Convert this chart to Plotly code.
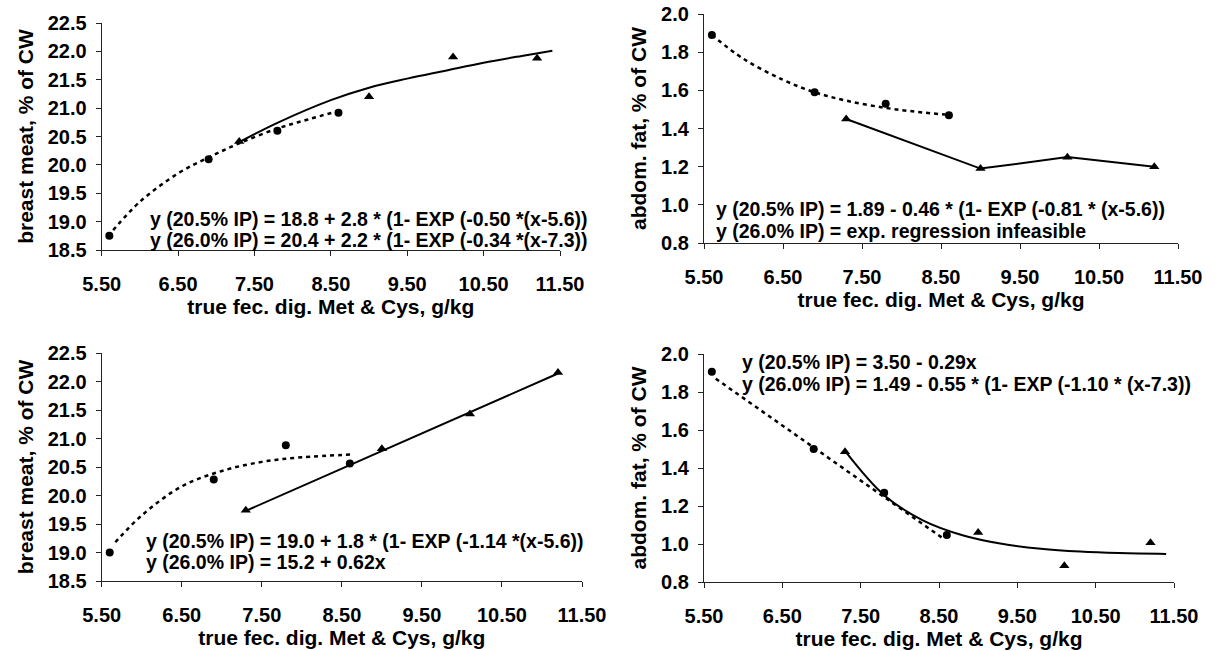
import plotly.graph_objects as go

W, H = 1215, 651

# ---------- data ----------
# Panel A: breast meat (top-left)
a_x_205 = [5.6, 6.9, 7.8, 8.6]
a_y_205 = [18.75, 20.10, 20.60, 20.92]
a_x_260 = [7.3, 9.0, 10.1, 11.2]
a_y_260 = [20.41, 21.20, 21.90, 21.88]
a_fit205_x = [5.65, 6.0, 6.5, 6.9, 7.3, 7.8, 8.2, 8.6]
a_fit205_y = [18.85, 19.35, 19.85, 20.13, 20.38, 20.64, 20.80, 20.95]
a_fit260_x = [7.3, 7.8, 8.5, 9.0, 9.5, 10.0, 10.5, 11.0, 11.4]
a_fit260_y = [20.40, 20.74, 21.14, 21.36, 21.52, 21.66, 21.80, 21.92, 22.01]

# Panel B: abdominal fat (top-right)
b_x_205 = [5.6, 6.9, 7.8, 8.6]
b_y_205 = [1.89, 1.59, 1.53, 1.47]
b_x_260 = [7.3, 9.0, 10.1, 11.2]
b_y_260 = [1.45, 1.19, 1.25, 1.20]
b_fit205_x = [5.6, 6.0, 6.5, 6.9, 7.3, 7.8, 8.2, 8.55]
b_fit205_y = [1.89, 1.765, 1.655, 1.59, 1.546, 1.508, 1.487, 1.473]

# Panel C: breast meat (bottom-left)
c_x_205 = [5.6, 6.9, 7.8, 8.6]
c_y_205 = [19.00, 20.28, 20.88, 20.56]
c_x_260 = [7.3, 9.0, 10.1, 11.2]
c_y_260 = [19.74, 20.82, 21.43, 22.16]
c_fit205_x = [5.67, 6.0, 6.5, 7.0, 7.5, 8.0, 8.65]
c_fit205_y = [19.18, 19.65, 20.16, 20.43, 20.59, 20.67, 20.72]
c_fit260_x = [7.3, 11.2]
c_fit260_y = [19.73, 22.14]

# Panel D: abdominal fat (bottom-right)
d_x_205 = [5.6, 6.9, 7.8, 8.6]
d_y_205 = [1.907, 1.50, 1.27, 1.047]
d_x_260 = [7.3, 9.0, 10.1, 11.2]
d_y_260 = [1.486, 1.06, 0.886, 1.007]
d_fit205_x = [5.65, 8.55]
d_fit205_y = [1.87, 1.03]
d_fit260_x = [7.3, 7.8, 8.3, 8.8, 9.3, 9.8, 10.3, 10.8, 11.4]
d_fit260_y = [1.49, 1.257, 1.123, 1.046, 1.001, 0.975, 0.960, 0.952, 0.948]

x_ticks = [5.5, 6.5, 7.5, 8.5, 9.5, 10.5, 11.5]
x_ticktext = ["5.50", "6.50", "7.50", "8.50", "9.50", "10.50", "11.50"]

x_title = "true fec. dig. Met & Cys, g/kg"
y_title_meat = "breast meat, % of CW"
y_title_fat = "abdom. fat, % of CW"

eq = {
    "A": ["y (20.5% IP) = 18.8 + 2.8 * (1- EXP (-0.50 *(x-5.6))",
          "y (26.0% IP) = 20.4 + 2.2 * (1- EXP (-0.34 *(x-7.3))"],
    "B": ["y (20.5% IP) = 1.89 - 0.46 * (1- EXP (-0.81 * (x-5.6))",
          "y (26.0% IP) = exp. regression infeasible"],
    "C": ["y (20.5% IP) = 19.0 + 1.8 * (1- EXP (-1.14 *(x-5.6))",
          "y (26.0% IP) = 15.2 + 0.62x"],
    "D": ["y (20.5% IP) = 3.50 - 0.29x",
          "y (26.0% IP) = 1.49 - 0.55 * (1- EXP (-1.10 * (x-7.3))"],
}

# ---------- layout helpers ----------
FONT = "Arial, Liberation Sans, sans-serif"
FS_TICK = 20
FS_TITLE = 21
FS_EQ = 19.5

def px_x(p):
    return p / W

def px_y(p):
    return 1 - p / H

# pixel boxes (left, right, top, bottom)
boxes = {
    "A": (101.7, 560, 23, 250),
    "B": (704, 1178, 14, 243),
    "C": (101.7, 582, 353, 581),
    "D": (704, 1174, 354, 582),
}
yranges = {"A": [18.5, 22.5], "B": [0.8, 2.0], "C": [18.5, 22.5], "D": [0.8, 2.0]}
ydt = {"A": 0.5, "B": 0.2, "C": 0.5, "D": 0.2}
ytitles = {"A": y_title_meat, "B": y_title_fat, "C": y_title_meat, "D": y_title_fat}
axid = {"A": "", "B": "2", "C": "3", "D": "4"}

fig = go.Figure()

dash_style = "4px,4px"

def add_panel(key, x205, y205, x260, y260, fx205, fy205, fx260=None, fy260=None,
              solid_shape="spline"):
    a = axid[key]
    xa, ya = "x" + a, "y" + a
    fig.add_trace(go.Scatter(x=fx205, y=fy205, mode="lines", xaxis=xa, yaxis=ya,
                             line=dict(color="black", width=2.5, dash=dash_style,
                                       shape="spline", smoothing=1.0),
                             showlegend=False, hoverinfo="skip"))
    if fx260 is not None:
        fig.add_trace(go.Scatter(x=fx260, y=fy260, mode="lines", xaxis=xa, yaxis=ya,
                                 line=dict(color="black", width=2, shape=solid_shape,
                                           smoothing=1.0),
                                 showlegend=False, hoverinfo="skip"))
    fig.add_trace(go.Scatter(x=x205, y=y205, mode="markers", xaxis=xa, yaxis=ya,
                             marker=dict(symbol="circle", size=8, color="black"),
                             showlegend=False))
    fig.add_trace(go.Scatter(x=x260, y=y260, mode="markers", xaxis=xa, yaxis=ya,
                             marker=dict(symbol="triangle-up", size=9, color="black"),
                             showlegend=False))

add_panel("A", a_x_205, a_y_205, a_x_260, a_y_260, a_fit205_x, a_fit205_y,
          a_fit260_x, a_fit260_y)
add_panel("B", b_x_205, b_y_205, b_x_260, b_y_260, b_fit205_x, b_fit205_y,
          b_x_260, b_y_260, solid_shape="linear")
add_panel("C", c_x_205, c_y_205, c_x_260, c_y_260, c_fit205_x, c_fit205_y,
          c_fit260_x, c_fit260_y, solid_shape="linear")
add_panel("D", d_x_205, d_y_205, d_x_260, d_y_260, d_fit205_x, d_fit205_y,
          d_fit260_x, d_fit260_y)

layout = dict(
    width=W, height=H,
    margin=dict(l=0, r=0, t=0, b=0),
    paper_bgcolor="white", plot_bgcolor="white",
    font=dict(family=FONT, size=FS_TICK, color="black"),
    showlegend=False,
)

for key, (l, r, t, b) in boxes.items():
    a = axid[key]
    layout["xaxis" + a] = dict(
        domain=[px_x(l), px_x(r)], range=[5.5, 11.5], anchor="y" + a,
        tickvals=x_ticks, ticktext=x_ticktext,
        showgrid=False, zeroline=False, showline=True, linecolor="#222", linewidth=1.2,
        ticks="outside", ticklen=5, tickwidth=1.2, tickcolor="#222",
        ticklabelstandoff=11,
        tickfont=dict(family=FONT, size=FS_TICK, color="black", weight="bold"),
        title=dict(text=x_title, standoff=1,
                   font=dict(family=FONT, size=FS_TITLE, color="black", weight="bold")),
        automargin=False, fixedrange=True,
    )
    layout["yaxis" + a] = dict(
        domain=[px_y(b), px_y(t)], range=yranges[key], anchor="x" + a,
        dtick=ydt[key], tick0=yranges[key][0], tickformat=".1f",
        showgrid=False, zeroline=False, showline=True, linecolor="#222", linewidth=1.2,
        ticks="outside", ticklen=5, tickwidth=1.2, tickcolor="#222",
        ticklabelstandoff=5,
        tickfont=dict(family=FONT, size=FS_TICK, color="black", weight="bold"),
        title=dict(text=ytitles[key], standoff=8,
                   font=dict(family=FONT, size=FS_TITLE, color="black", weight="bold")),
        automargin=False, fixedrange=True,
    )

fig.update_layout(**layout)

# equation text positions (pixel left, line centres)
eq_pos = {
    "A": (147.5, [219, 240]),
    "B": (714, [209, 231]),
    "C": (144, [541, 562]),
    "D": (740, [362, 384]),
}
for key, (lx, ys) in eq_pos.items():
    for txt, yy in zip(eq[key], ys):
        fig.add_annotation(x=px_x(lx), y=px_y(yy), xref="paper", yref="paper",
                           xanchor="left", yanchor="middle", showarrow=False,
                           text=txt,
                           font=dict(family=FONT, size=FS_EQ, color="black", weight="bold"))

fig.write_html("out.html")
